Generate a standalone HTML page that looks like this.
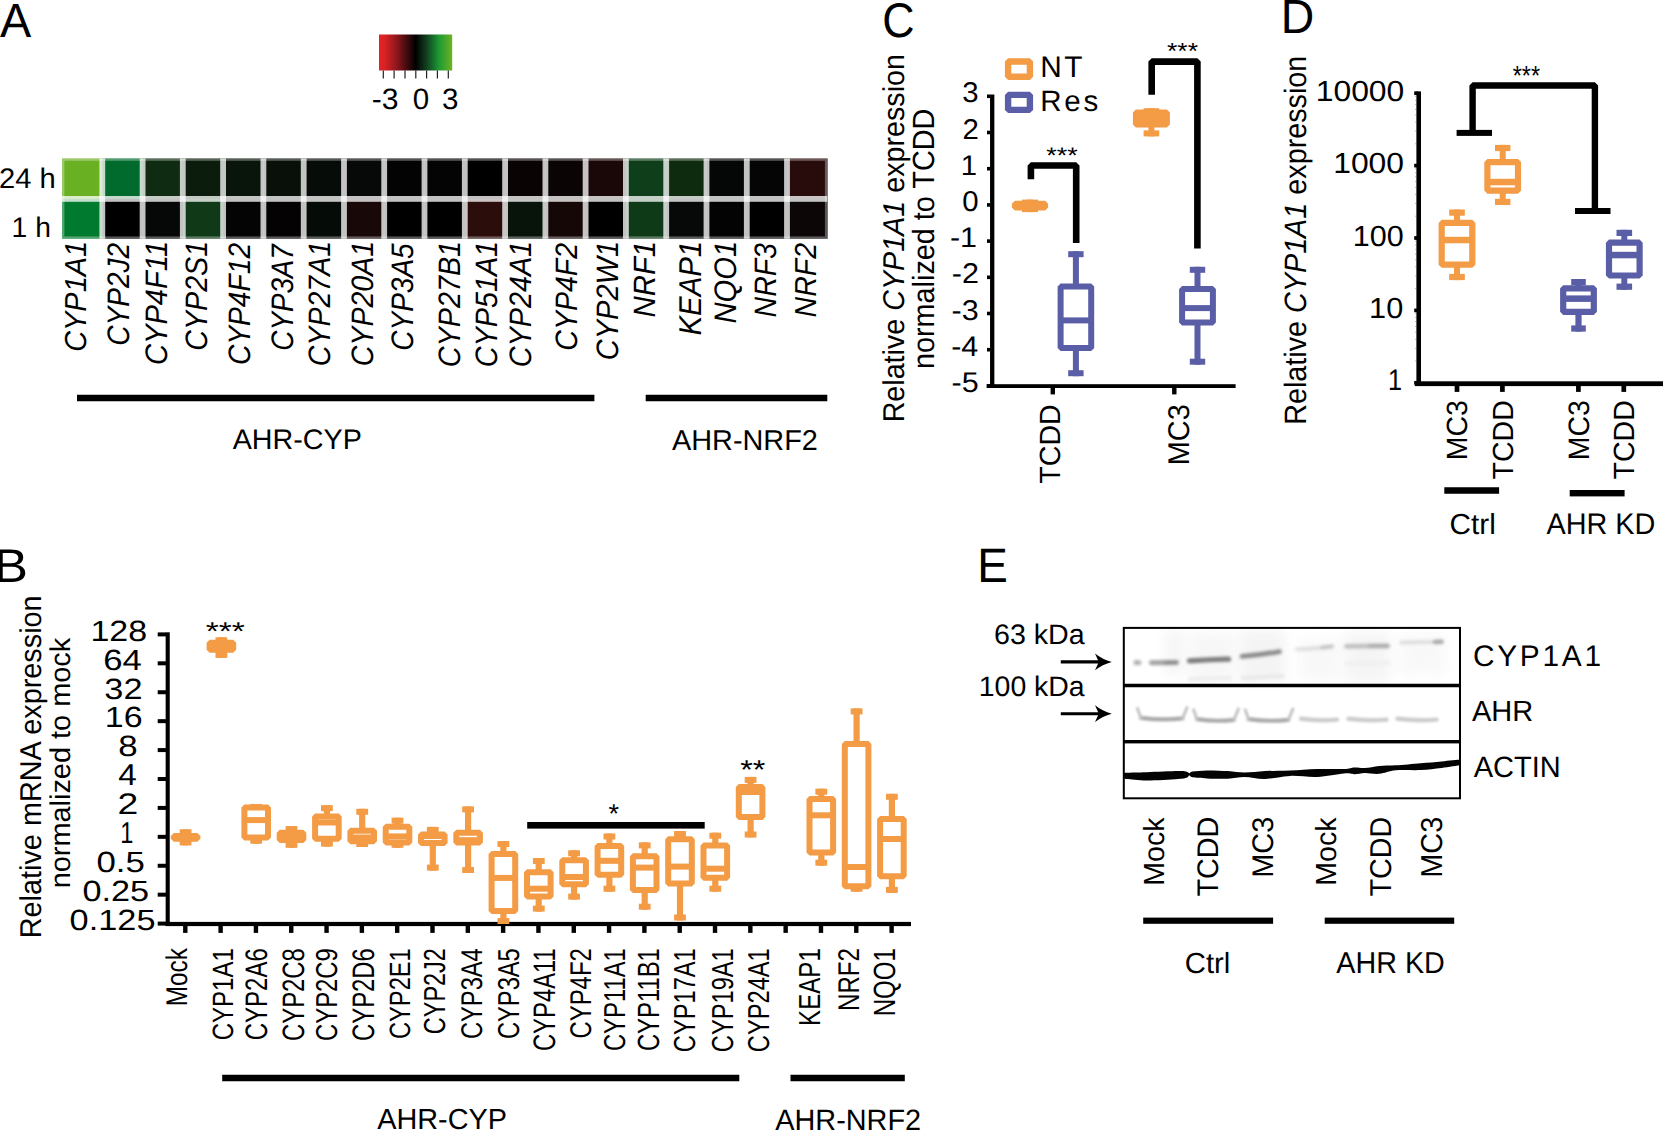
<!DOCTYPE html>
<html lang="en"><head><meta charset="utf-8"><title>Figure</title>
<style>html,body{margin:0;padding:0;background:#fff}svg{display:block}text{font-family:"Liberation Sans",sans-serif;fill:#000;text-rendering:geometricPrecision}</style></head><body>
<svg width="1663" height="1130" viewBox="0 0 1663 1130">
<rect width="1663" height="1130" fill="#fff"/>
<defs>
<linearGradient id="key" x1="0" x2="1" y1="0" y2="0"><stop offset="0" stop-color="#e32322"/><stop offset="0.08" stop-color="#d92224"/><stop offset="0.25" stop-color="#8a161c"/><stop offset="0.5" stop-color="#000"/><stop offset="0.65" stop-color="#124020"/><stop offset="0.82" stop-color="#1c9a33"/><stop offset="1" stop-color="#6fb222"/></linearGradient>
<filter color-interpolation-filters="sRGB" id="b1" x="-20%" y="-200%" width="140%" height="500%"><feGaussianBlur stdDeviation="1.2"/></filter>
<filter color-interpolation-filters="sRGB" id="b2" x="-20%" y="-200%" width="140%" height="500%"><feGaussianBlur stdDeviation="1.5"/></filter>
<filter color-interpolation-filters="sRGB" id="b3" x="-30%" y="-30%" width="160%" height="160%"><feGaussianBlur stdDeviation="6"/></filter>
<filter color-interpolation-filters="sRGB" id="b0" x="-10%" y="-10%" width="120%" height="120%"><feGaussianBlur stdDeviation="0.7"/></filter>
<clipPath id="blot"><rect x="1124" y="628" width="336" height="170"/></clipPath>
</defs>
<text x="-0.12" y="36.60" font-size="48.15" textLength="31.21" lengthAdjust="spacingAndGlyphs">A</text>
<text x="-6.23" y="581.50" font-size="47.27" textLength="34.20" lengthAdjust="spacingAndGlyphs">B</text>
<text x="882.16" y="36.81" font-size="48.62" textLength="32.30" lengthAdjust="spacingAndGlyphs">C</text>
<text x="1280.77" y="33.10" font-size="47.85" textLength="33.52" lengthAdjust="spacingAndGlyphs">D</text>
<text x="977.21" y="581.50" font-size="48.29" textLength="30.61" lengthAdjust="spacingAndGlyphs">E</text>
<g id="panelA">
<rect x="379" y="34.5" width="73.2" height="36" fill="url(#key)"/>
<rect x="382.7" y="70.5" width="1.2" height="8.0" fill="#222"/>
<rect x="393.5" y="70.5" width="1.2" height="8.0" fill="#222"/>
<rect x="404.4" y="70.5" width="1.2" height="8.0" fill="#222"/>
<rect x="415.2" y="70.5" width="1.2" height="8.0" fill="#222"/>
<rect x="426.0" y="70.5" width="1.2" height="8.0" fill="#222"/>
<rect x="436.79999999999995" y="70.5" width="1.2" height="8.0" fill="#222"/>
<rect x="447.7" y="70.5" width="1.2" height="8.0" fill="#222"/>
<text x="371.84" y="108.90" font-size="29.54" textLength="26.79" lengthAdjust="spacingAndGlyphs">-3</text>
<text x="412.72" y="108.90" font-size="29.54">0</text>
<text x="441.89" y="108.90" font-size="29.54">3</text>
<g filter="url(#b0)">
<rect x="62.0" y="158.4" width="40.6" height="40.7" fill="#6ab023"/>
<rect x="62.0" y="198.9" width="40.6" height="39.9" fill="#007a2e"/>
<rect x="102.3" y="158.4" width="40.6" height="40.7" fill="#006b2d"/>
<rect x="102.3" y="198.9" width="40.6" height="39.9" fill="#000000"/>
<rect x="142.6" y="158.4" width="40.6" height="40.7" fill="#0f2b11"/>
<rect x="142.6" y="198.9" width="40.6" height="39.9" fill="#060807"/>
<rect x="182.8" y="158.4" width="40.6" height="40.7" fill="#0c1c0c"/>
<rect x="182.8" y="198.9" width="40.6" height="39.9" fill="#103a17"/>
<rect x="223.1" y="158.4" width="40.6" height="40.7" fill="#09140a"/>
<rect x="223.1" y="198.9" width="40.6" height="39.9" fill="#050404"/>
<rect x="263.4" y="158.4" width="40.6" height="40.7" fill="#081009"/>
<rect x="263.4" y="198.9" width="40.6" height="39.9" fill="#040203"/>
<rect x="303.7" y="158.4" width="40.6" height="40.7" fill="#060c07"/>
<rect x="303.7" y="198.9" width="40.6" height="39.9" fill="#050b07"/>
<rect x="344.0" y="158.4" width="40.6" height="40.7" fill="#070908"/>
<rect x="344.0" y="198.9" width="40.6" height="39.9" fill="#180808"/>
<rect x="384.2" y="158.4" width="40.6" height="40.7" fill="#030303"/>
<rect x="384.2" y="198.9" width="40.6" height="39.9" fill="#000000"/>
<rect x="424.5" y="158.4" width="40.6" height="40.7" fill="#040404"/>
<rect x="424.5" y="198.9" width="40.6" height="39.9" fill="#000000"/>
<rect x="464.8" y="158.4" width="40.6" height="40.7" fill="#000000"/>
<rect x="464.8" y="198.9" width="40.6" height="39.9" fill="#2b0d0b"/>
<rect x="505.1" y="158.4" width="40.6" height="40.7" fill="#0a0303"/>
<rect x="505.1" y="198.9" width="40.6" height="39.9" fill="#08140a"/>
<rect x="545.4" y="158.4" width="40.6" height="40.7" fill="#0a0404"/>
<rect x="545.4" y="198.9" width="40.6" height="39.9" fill="#160707"/>
<rect x="585.6" y="158.4" width="40.6" height="40.7" fill="#1a0808"/>
<rect x="585.6" y="198.9" width="40.6" height="39.9" fill="#000000"/>
<rect x="625.9" y="158.4" width="40.6" height="40.7" fill="#0f3f1a"/>
<rect x="625.9" y="198.9" width="40.6" height="39.9" fill="#0f3a17"/>
<rect x="666.2" y="158.4" width="40.6" height="40.7" fill="#0e2b10"/>
<rect x="666.2" y="198.9" width="40.6" height="39.9" fill="#070908"/>
<rect x="706.5" y="158.4" width="40.6" height="40.7" fill="#040706"/>
<rect x="706.5" y="198.9" width="40.6" height="39.9" fill="#030303"/>
<rect x="746.8" y="158.4" width="40.6" height="40.7" fill="#060505"/>
<rect x="746.8" y="198.9" width="40.6" height="39.9" fill="#000000"/>
<rect x="787.0" y="158.4" width="40.6" height="40.7" fill="#280b0b"/>
<rect x="787.0" y="198.9" width="40.6" height="39.9" fill="#0c0607"/>
<g fill="#fff" fill-opacity="0.76">
<rect x="99.4" y="158.4" width="5.8" height="80.4"/>
<rect x="139.7" y="158.4" width="5.8" height="80.4"/>
<rect x="179.9" y="158.4" width="5.8" height="80.4"/>
<rect x="220.2" y="158.4" width="5.8" height="80.4"/>
<rect x="260.5" y="158.4" width="5.8" height="80.4"/>
<rect x="300.8" y="158.4" width="5.8" height="80.4"/>
<rect x="341.1" y="158.4" width="5.8" height="80.4"/>
<rect x="381.3" y="158.4" width="5.8" height="80.4"/>
<rect x="421.6" y="158.4" width="5.8" height="80.4"/>
<rect x="461.9" y="158.4" width="5.8" height="80.4"/>
<rect x="502.2" y="158.4" width="5.8" height="80.4"/>
<rect x="542.5" y="158.4" width="5.8" height="80.4"/>
<rect x="582.7" y="158.4" width="5.8" height="80.4"/>
<rect x="623.0" y="158.4" width="5.8" height="80.4"/>
<rect x="663.3" y="158.4" width="5.8" height="80.4"/>
<rect x="703.6" y="158.4" width="5.8" height="80.4"/>
<rect x="743.9" y="158.4" width="5.8" height="80.4"/>
<rect x="784.1" y="158.4" width="5.8" height="80.4"/>
<rect x="62" y="196" width="765.3" height="5.8"/>
</g>
<rect x="63.2" y="159.6" width="762.9" height="78" fill="none" stroke="#fff" stroke-width="2.4" opacity="0.32"/>
</g>
<text x="-1.06" y="188.20" font-size="28.28" textLength="56.72" lengthAdjust="spacingAndGlyphs">24 h</text>
<text x="11.58" y="237.00" font-size="28.41" textLength="39.29" lengthAdjust="spacingAndGlyphs">1 h</text>
<text transform="translate(86.10,351.79) rotate(-90)" font-size="30.39" textLength="110.89" lengthAdjust="spacingAndGlyphs" font-style="italic">CYP1A1</text>
<text transform="translate(129.40,345.74) rotate(-90)" font-size="31.11" textLength="102.82" lengthAdjust="spacingAndGlyphs" font-style="italic">CYP2J2</text>
<text transform="translate(166.70,365.10) rotate(-90)" font-size="31.11" textLength="124.25" lengthAdjust="spacingAndGlyphs" font-style="italic">CYP4F11</text>
<text transform="translate(206.80,350.67) rotate(-90)" font-size="30.97" textLength="109.75" lengthAdjust="spacingAndGlyphs" font-style="italic">CYP2S1</text>
<text transform="translate(249.60,365.05) rotate(-90)" font-size="30.97" textLength="122.12" lengthAdjust="spacingAndGlyphs" font-style="italic">CYP4F12</text>
<text transform="translate(292.50,350.63) rotate(-90)" font-size="31.11" textLength="106.44" lengthAdjust="spacingAndGlyphs" font-style="italic">CYP3A7</text>
<text transform="translate(330.20,366.27) rotate(-90)" font-size="30.97" textLength="125.37" lengthAdjust="spacingAndGlyphs" font-style="italic">CYP27A1</text>
<text transform="translate(373.00,366.27) rotate(-90)" font-size="30.97" textLength="125.37" lengthAdjust="spacingAndGlyphs" font-style="italic">CYP20A1</text>
<text transform="translate(413.20,350.64) rotate(-90)" font-size="31.11" textLength="107.28" lengthAdjust="spacingAndGlyphs" font-style="italic">CYP3A5</text>
<text transform="translate(460.40,367.28) rotate(-90)" font-size="30.97" textLength="126.41" lengthAdjust="spacingAndGlyphs" font-style="italic">CYP27B1</text>
<text transform="translate(496.50,367.28) rotate(-90)" font-size="30.97" textLength="126.41" lengthAdjust="spacingAndGlyphs" font-style="italic">CYP51A1</text>
<text transform="translate(530.90,367.28) rotate(-90)" font-size="30.97" textLength="126.41" lengthAdjust="spacingAndGlyphs" font-style="italic">CYP24A1</text>
<text transform="translate(577.10,350.67) rotate(-90)" font-size="30.97" textLength="107.78" lengthAdjust="spacingAndGlyphs" font-style="italic">CYP4F2</text>
<text transform="translate(617.50,360.30) rotate(-90)" font-size="30.97" textLength="119.46" lengthAdjust="spacingAndGlyphs" font-style="italic">CYP2W1</text>
<text transform="translate(654.80,317.48) rotate(-90)" font-size="30.84" textLength="76.64" lengthAdjust="spacingAndGlyphs" font-style="italic">NRF1</text>
<text transform="translate(700.50,335.48) rotate(-90)" font-size="31.56" textLength="94.65" lengthAdjust="spacingAndGlyphs" font-style="italic">KEAP1</text>
<text transform="translate(735.90,323.47) rotate(-90)" font-size="31.11" textLength="82.63" lengthAdjust="spacingAndGlyphs" font-style="italic">NQO1</text>
<text transform="translate(775.50,317.45) rotate(-90)" font-size="30.97" textLength="74.41" lengthAdjust="spacingAndGlyphs" font-style="italic">NRF3</text>
<text transform="translate(816.00,317.46) rotate(-90)" font-size="30.39" textLength="74.55" lengthAdjust="spacingAndGlyphs" font-style="italic">NRF2</text>
<rect x="77" y="394.75" width="517.4" height="6.5" fill="#000"/>
<rect x="645.7" y="394.75" width="181.5999999999999" height="6.5" fill="#000"/>
<text x="232.73" y="449.32" font-size="28.27" textLength="129.09" lengthAdjust="spacingAndGlyphs">AHR-CYP</text>
<text x="672.03" y="449.60" font-size="28.67" textLength="145.84" lengthAdjust="spacingAndGlyphs">AHR-NRF2</text>
</g>
<g id="panelB">
<text transform="translate(41.10,938.28) rotate(-90)" font-size="30.07" textLength="342.92" lengthAdjust="spacingAndGlyphs">Relative mRNA expression</text>
<text transform="translate(69.70,888.35) rotate(-90)" font-size="28.55" textLength="250.56" lengthAdjust="spacingAndGlyphs">normalized to mock</text>
<rect x="165.64999999999998" y="632.3" width="4.1" height="293.6" fill="#000"/>
<rect x="165.6" y="921.9" width="745.4" height="4.2" fill="#000"/>
<rect x="157.7" y="632.4" width="8.300000000000011" height="4.0" fill="#000"/>
<text x="90.45" y="640.69" font-size="29.26" textLength="56.62" lengthAdjust="spacingAndGlyphs">128</text>
<rect x="157.7" y="661.3199999999999" width="8.300000000000011" height="4.0" fill="#000"/>
<text x="103.27" y="669.61" font-size="29.26" textLength="38.57" lengthAdjust="spacingAndGlyphs">64</text>
<rect x="157.7" y="690.24" width="8.300000000000011" height="4.0" fill="#000"/>
<text x="104.31" y="698.53" font-size="29.26" textLength="38.18" lengthAdjust="spacingAndGlyphs">32</text>
<rect x="157.7" y="719.16" width="8.300000000000011" height="4.0" fill="#000"/>
<text x="104.75" y="727.45" font-size="29.26" textLength="37.77" lengthAdjust="spacingAndGlyphs">16</text>
<rect x="157.7" y="748.0799999999999" width="8.300000000000011" height="4.0" fill="#000"/>
<text x="118.22" y="756.37" font-size="29.26" textLength="19.41" lengthAdjust="spacingAndGlyphs">8</text>
<rect x="157.7" y="777.0" width="8.300000000000011" height="4.0" fill="#000"/>
<text x="118.35" y="785.30" font-size="30.11" textLength="18.50" lengthAdjust="spacingAndGlyphs">4</text>
<rect x="157.7" y="805.92" width="8.300000000000011" height="4.0" fill="#000"/>
<text x="117.53" y="814.22" font-size="29.68" textLength="20.78" lengthAdjust="spacingAndGlyphs">2</text>
<rect x="157.7" y="834.8399999999999" width="8.300000000000011" height="4.0" fill="#000"/>
<text x="120.23" y="843.14" font-size="30.11" textLength="13.12" lengthAdjust="spacingAndGlyphs">1</text>
<rect x="157.7" y="863.76" width="8.300000000000011" height="4.0" fill="#000"/>
<text x="96.51" y="872.05" font-size="29.26" textLength="48.39" lengthAdjust="spacingAndGlyphs">0.5</text>
<rect x="157.7" y="892.6800000000001" width="8.300000000000011" height="4.0" fill="#000"/>
<text x="82.43" y="900.97" font-size="29.26" textLength="66.69" lengthAdjust="spacingAndGlyphs">0.25</text>
<rect x="157.7" y="921.6" width="8.300000000000011" height="4.0" fill="#000"/>
<text x="69.63" y="929.89" font-size="29.26" textLength="85.85" lengthAdjust="spacingAndGlyphs">0.125</text>
<rect x="183.10000000000002" y="924" width="4.4" height="8.899999999999977" fill="#000"/>
<rect x="218.41500000000002" y="924" width="4.4" height="8.899999999999977" fill="#000"/>
<rect x="253.73000000000002" y="924" width="4.4" height="8.899999999999977" fill="#000"/>
<rect x="289.045" y="924" width="4.4" height="8.899999999999977" fill="#000"/>
<rect x="324.36" y="924" width="4.4" height="8.899999999999977" fill="#000"/>
<rect x="359.675" y="924" width="4.4" height="8.899999999999977" fill="#000"/>
<rect x="394.99" y="924" width="4.4" height="8.899999999999977" fill="#000"/>
<rect x="430.305" y="924" width="4.4" height="8.899999999999977" fill="#000"/>
<rect x="465.62" y="924" width="4.4" height="8.899999999999977" fill="#000"/>
<rect x="500.935" y="924" width="4.4" height="8.899999999999977" fill="#000"/>
<rect x="536.25" y="924" width="4.4" height="8.899999999999977" fill="#000"/>
<rect x="571.5649999999999" y="924" width="4.4" height="8.899999999999977" fill="#000"/>
<rect x="606.8799999999999" y="924" width="4.4" height="8.899999999999977" fill="#000"/>
<rect x="642.1949999999999" y="924" width="4.4" height="8.899999999999977" fill="#000"/>
<rect x="677.51" y="924" width="4.4" height="8.899999999999977" fill="#000"/>
<rect x="712.8249999999998" y="924" width="4.4" height="8.899999999999977" fill="#000"/>
<rect x="748.1399999999999" y="924" width="4.4" height="8.899999999999977" fill="#000"/>
<rect x="783.4549999999999" y="924" width="4.4" height="8.899999999999977" fill="#000"/>
<rect x="818.77" y="924" width="4.4" height="8.899999999999977" fill="#000"/>
<rect x="854.0849999999998" y="924" width="4.4" height="8.899999999999977" fill="#000"/>
<rect x="889.3999999999999" y="924" width="4.4" height="8.899999999999977" fill="#000"/>
<g stroke="#F39B45" fill="none" stroke-linejoin="bevel">
<rect x="182.5" y="829.3" width="6.2" height="16.1" fill="#F39B45" stroke="none"/>
<rect x="179.7" y="829.3" width="11.8" height="6.0" fill="#F39B45" stroke="none"/>
<rect x="179.7" y="839.4" width="11.8" height="6.0" fill="#F39B45" stroke="none"/>
<rect x="173.8" y="835.9" width="23.6" height="2.9" fill="#F39B45" stroke-width="6.0"/>
</g>
<g stroke="#F39B45" fill="none" stroke-linejoin="bevel">
<rect x="218.3" y="637.3" width="6.2" height="20.6" fill="#F39B45" stroke="none"/>
<rect x="215.5" y="637.3" width="11.8" height="6.0" fill="#F39B45" stroke="none"/>
<rect x="215.5" y="651.9" width="11.8" height="6.0" fill="#F39B45" stroke="none"/>
<rect x="209.6" y="642.8" width="23.6" height="7.0" fill="#F39B45" stroke-width="6.0"/>
</g>
<g stroke="#F39B45" fill="none" stroke-linejoin="bevel">
<rect x="253.1" y="804.0" width="6.2" height="39.7" fill="#F39B45" stroke="none"/>
<rect x="250.3" y="804.0" width="11.8" height="6.0" fill="#F39B45" stroke="none"/>
<rect x="250.3" y="837.7" width="11.8" height="6.0" fill="#F39B45" stroke="none"/>
<rect x="244.4" y="807.5" width="23.6" height="30.1" fill="#fff" stroke-width="6.0"/>
<rect x="244.4" y="817.1" width="23.6" height="6.0" fill="#F39B45" stroke="none"/>
</g>
<g stroke="#F39B45" fill="none" stroke-linejoin="bevel">
<rect x="288.4" y="826.1" width="6.2" height="21.7" fill="#F39B45" stroke="none"/>
<rect x="285.6" y="826.1" width="11.8" height="6.0" fill="#F39B45" stroke="none"/>
<rect x="285.6" y="841.8" width="11.8" height="6.0" fill="#F39B45" stroke="none"/>
<rect x="279.7" y="832.8" width="23.6" height="7.2" fill="#F39B45" stroke-width="6.0"/>
</g>
<g stroke="#F39B45" fill="none" stroke-linejoin="bevel">
<rect x="323.8" y="805.2" width="6.2" height="41.4" fill="#F39B45" stroke="none"/>
<rect x="321.0" y="805.2" width="11.8" height="6.0" fill="#F39B45" stroke="none"/>
<rect x="321.0" y="840.6" width="11.8" height="6.0" fill="#F39B45" stroke="none"/>
<rect x="315.1" y="816.4" width="23.6" height="22.4" fill="#fff" stroke-width="6.0"/>
<rect x="315.1" y="819.5" width="23.6" height="6.0" fill="#F39B45" stroke="none"/>
</g>
<g stroke="#F39B45" fill="none" stroke-linejoin="bevel">
<rect x="359.1" y="808.8" width="6.2" height="38.2" fill="#F39B45" stroke="none"/>
<rect x="356.3" y="808.8" width="11.8" height="6.0" fill="#F39B45" stroke="none"/>
<rect x="356.3" y="841.0" width="11.8" height="6.0" fill="#F39B45" stroke="none"/>
<rect x="350.4" y="830.8" width="23.6" height="10.4" fill="#fff" stroke-width="6.0"/>
<rect x="350.4" y="834.5" width="23.6" height="6.0" fill="#F39B45" stroke="none"/>
</g>
<g stroke="#F39B45" fill="none" stroke-linejoin="bevel">
<rect x="394.4" y="817.7" width="6.2" height="30.1" fill="#F39B45" stroke="none"/>
<rect x="391.6" y="817.7" width="11.8" height="6.0" fill="#F39B45" stroke="none"/>
<rect x="391.6" y="841.8" width="11.8" height="6.0" fill="#F39B45" stroke="none"/>
<rect x="385.7" y="826.7" width="23.6" height="15.7" fill="#fff" stroke-width="6.0"/>
<rect x="385.7" y="833.4" width="23.6" height="6.0" fill="#F39B45" stroke="none"/>
</g>
<g stroke="#F39B45" fill="none" stroke-linejoin="bevel">
<rect x="429.7" y="826.9" width="6.2" height="43.7" fill="#F39B45" stroke="none"/>
<rect x="426.9" y="826.9" width="11.8" height="6.0" fill="#F39B45" stroke="none"/>
<rect x="426.9" y="864.6" width="11.8" height="6.0" fill="#F39B45" stroke="none"/>
<rect x="421.0" y="834.4" width="23.6" height="8.7" fill="#fff" stroke-width="6.0"/>
<rect x="421.0" y="833.0" width="23.6" height="6.0" fill="#F39B45" stroke="none"/>
</g>
<g stroke="#F39B45" fill="none" stroke-linejoin="bevel">
<rect x="465.0" y="806.4" width="6.2" height="66.6" fill="#F39B45" stroke="none"/>
<rect x="462.2" y="806.4" width="11.8" height="6.0" fill="#F39B45" stroke="none"/>
<rect x="462.2" y="867.0" width="11.8" height="6.0" fill="#F39B45" stroke="none"/>
<rect x="456.3" y="832.8" width="23.6" height="9.6" fill="#fff" stroke-width="6.0"/>
<rect x="456.3" y="837.2" width="23.6" height="6.0" fill="#F39B45" stroke="none"/>
</g>
<g stroke="#F39B45" fill="none" stroke-linejoin="bevel">
<rect x="500.3" y="841.1" width="6.2" height="82.9" fill="#F39B45" stroke="none"/>
<rect x="497.5" y="841.1" width="11.8" height="6.0" fill="#F39B45" stroke="none"/>
<rect x="497.5" y="918.0" width="11.8" height="6.0" fill="#F39B45" stroke="none"/>
<rect x="491.6" y="853.9" width="23.6" height="57.0" fill="#fff" stroke-width="6.0"/>
<rect x="491.6" y="874.9" width="23.6" height="6.0" fill="#F39B45" stroke="none"/>
</g>
<g stroke="#F39B45" fill="none" stroke-linejoin="bevel">
<rect x="535.6" y="858.0" width="6.2" height="53.6" fill="#F39B45" stroke="none"/>
<rect x="532.9" y="858.0" width="11.8" height="6.0" fill="#F39B45" stroke="none"/>
<rect x="532.9" y="905.6" width="11.8" height="6.0" fill="#F39B45" stroke="none"/>
<rect x="527.0" y="872.3" width="23.6" height="24.3" fill="#fff" stroke-width="6.0"/>
<rect x="527.0" y="885.7" width="23.6" height="6.0" fill="#F39B45" stroke="none"/>
</g>
<g stroke="#F39B45" fill="none" stroke-linejoin="bevel">
<rect x="571.0" y="850.3" width="6.2" height="49.3" fill="#F39B45" stroke="none"/>
<rect x="568.2" y="850.3" width="11.8" height="6.0" fill="#F39B45" stroke="none"/>
<rect x="568.2" y="893.6" width="11.8" height="6.0" fill="#F39B45" stroke="none"/>
<rect x="562.3" y="860.3" width="23.6" height="24.0" fill="#fff" stroke-width="6.0"/>
<rect x="562.3" y="874.0" width="23.6" height="6.0" fill="#F39B45" stroke="none"/>
</g>
<g stroke="#F39B45" fill="none" stroke-linejoin="bevel">
<rect x="606.3" y="833.5" width="6.2" height="58.2" fill="#F39B45" stroke="none"/>
<rect x="603.5" y="833.5" width="11.8" height="6.0" fill="#F39B45" stroke="none"/>
<rect x="603.5" y="885.7" width="11.8" height="6.0" fill="#F39B45" stroke="none"/>
<rect x="597.6" y="846.1" width="23.6" height="28.6" fill="#fff" stroke-width="6.0"/>
<rect x="597.6" y="857.8" width="23.6" height="6.0" fill="#F39B45" stroke="none"/>
</g>
<g stroke="#F39B45" fill="none" stroke-linejoin="bevel">
<rect x="641.6" y="842.4" width="6.2" height="67.3" fill="#F39B45" stroke="none"/>
<rect x="638.8" y="842.4" width="11.8" height="6.0" fill="#F39B45" stroke="none"/>
<rect x="638.8" y="903.7" width="11.8" height="6.0" fill="#F39B45" stroke="none"/>
<rect x="632.9" y="856.2" width="23.6" height="33.7" fill="#fff" stroke-width="6.0"/>
<rect x="632.9" y="864.6" width="23.6" height="6.0" fill="#F39B45" stroke="none"/>
</g>
<g stroke="#F39B45" fill="none" stroke-linejoin="bevel">
<rect x="676.9" y="831.0" width="6.2" height="89.5" fill="#F39B45" stroke="none"/>
<rect x="674.1" y="831.0" width="11.8" height="6.0" fill="#F39B45" stroke="none"/>
<rect x="674.1" y="914.5" width="11.8" height="6.0" fill="#F39B45" stroke="none"/>
<rect x="668.2" y="839.3" width="23.6" height="44.1" fill="#fff" stroke-width="6.0"/>
<rect x="668.2" y="863.6" width="23.6" height="6.0" fill="#F39B45" stroke="none"/>
</g>
<g stroke="#F39B45" fill="none" stroke-linejoin="bevel">
<rect x="712.2" y="832.7" width="6.2" height="59.0" fill="#F39B45" stroke="none"/>
<rect x="709.4" y="832.7" width="11.8" height="6.0" fill="#F39B45" stroke="none"/>
<rect x="709.4" y="885.7" width="11.8" height="6.0" fill="#F39B45" stroke="none"/>
<rect x="703.5" y="845.4" width="23.6" height="32.4" fill="#fff" stroke-width="6.0"/>
<rect x="703.5" y="865.7" width="23.6" height="6.0" fill="#F39B45" stroke="none"/>
</g>
<g stroke="#F39B45" fill="none" stroke-linejoin="bevel">
<rect x="747.5" y="776.9" width="6.2" height="60.6" fill="#F39B45" stroke="none"/>
<rect x="744.7" y="776.9" width="11.8" height="6.0" fill="#F39B45" stroke="none"/>
<rect x="744.7" y="831.5" width="11.8" height="6.0" fill="#F39B45" stroke="none"/>
<rect x="738.8" y="786.9" width="23.6" height="30.1" fill="#fff" stroke-width="6.0"/>
<rect x="738.8" y="789.0" width="23.6" height="6.0" fill="#F39B45" stroke="none"/>
</g>
<g stroke="#F39B45" fill="none" stroke-linejoin="bevel">
<rect x="818.2" y="788.7" width="6.2" height="77.0" fill="#F39B45" stroke="none"/>
<rect x="815.4" y="788.7" width="11.8" height="6.0" fill="#F39B45" stroke="none"/>
<rect x="815.4" y="859.7" width="11.8" height="6.0" fill="#F39B45" stroke="none"/>
<rect x="809.5" y="798.9" width="23.6" height="53.7" fill="#fff" stroke-width="6.0"/>
<rect x="809.5" y="812.3" width="23.6" height="6.0" fill="#F39B45" stroke="none"/>
</g>
<g stroke="#F39B45" fill="none" stroke-linejoin="bevel">
<rect x="853.5" y="708.4" width="6.2" height="183.3" fill="#F39B45" stroke="none"/>
<rect x="850.7" y="708.4" width="11.8" height="6.0" fill="#F39B45" stroke="none"/>
<rect x="850.7" y="885.7" width="11.8" height="6.0" fill="#F39B45" stroke="none"/>
<rect x="844.8" y="743.9" width="23.6" height="142.4" fill="#fff" stroke-width="6.0"/>
<rect x="844.8" y="864.0" width="23.6" height="6.0" fill="#F39B45" stroke="none"/>
</g>
<g stroke="#F39B45" fill="none" stroke-linejoin="bevel">
<rect x="888.8" y="793.8" width="6.2" height="99.1" fill="#F39B45" stroke="none"/>
<rect x="886.0" y="793.8" width="11.8" height="6.0" fill="#F39B45" stroke="none"/>
<rect x="886.0" y="886.9" width="11.8" height="6.0" fill="#F39B45" stroke="none"/>
<rect x="880.1" y="818.9" width="23.6" height="57.3" fill="#fff" stroke-width="6.0"/>
<rect x="880.1" y="836.0" width="23.6" height="6.0" fill="#F39B45" stroke="none"/>
</g>
<rect x="527.2" y="822.0" width="177.5" height="6.6" fill="#000"/>
<text x="608.53" y="822.76" font-size="27.43" textLength="10.52" lengthAdjust="spacingAndGlyphs">*</text>
<text x="740.23" y="779.46" font-size="27.43" textLength="25.18" lengthAdjust="spacingAndGlyphs">**</text>
<text x="205.81" y="640.18" font-size="25.71" textLength="39.07" lengthAdjust="spacingAndGlyphs">***</text>
<text transform="translate(187.30,1006.20) rotate(-90)" font-size="29.93" textLength="58.00" lengthAdjust="spacingAndGlyphs">Mock</text>
<text transform="translate(233.00,1040.20) rotate(-90)" font-size="29.39" textLength="92.00" lengthAdjust="spacingAndGlyphs">CYP1A1</text>
<text transform="translate(266.70,1040.20) rotate(-90)" font-size="31.11" textLength="92.00" lengthAdjust="spacingAndGlyphs">CYP2A6</text>
<text transform="translate(303.90,1040.99) rotate(-90)" font-size="30.97" textLength="92.79" lengthAdjust="spacingAndGlyphs">CYP2C8</text>
<text transform="translate(337.10,1040.99) rotate(-90)" font-size="30.25" textLength="92.79" lengthAdjust="spacingAndGlyphs">CYP2C9</text>
<text transform="translate(373.70,1040.99) rotate(-90)" font-size="31.11" textLength="92.79" lengthAdjust="spacingAndGlyphs">CYP2D6</text>
<text transform="translate(409.80,1039.08) rotate(-90)" font-size="29.39" textLength="90.88" lengthAdjust="spacingAndGlyphs">CYP2E1</text>
<text transform="translate(445.40,1034.17) rotate(-90)" font-size="30.39" textLength="85.97" lengthAdjust="spacingAndGlyphs">CYP2J2</text>
<text transform="translate(481.90,1039.08) rotate(-90)" font-size="29.96" textLength="90.88" lengthAdjust="spacingAndGlyphs">CYP3A4</text>
<text transform="translate(518.70,1039.08) rotate(-90)" font-size="30.25" textLength="90.88" lengthAdjust="spacingAndGlyphs">CYP3A5</text>
<text transform="translate(555.30,1051.09) rotate(-90)" font-size="31.11" textLength="102.89" lengthAdjust="spacingAndGlyphs">CYP4A11</text>
<text transform="translate(591.30,1038.60) rotate(-90)" font-size="29.96" textLength="90.40" lengthAdjust="spacingAndGlyphs">CYP4F2</text>
<text transform="translate(624.50,1051.09) rotate(-90)" font-size="30.25" textLength="102.89" lengthAdjust="spacingAndGlyphs">CYP11A1</text>
<text transform="translate(659.20,1051.09) rotate(-90)" font-size="30.68" textLength="102.89" lengthAdjust="spacingAndGlyphs">CYP11B1</text>
<text transform="translate(694.80,1052.18) rotate(-90)" font-size="30.39" textLength="103.98" lengthAdjust="spacingAndGlyphs">CYP17A1</text>
<text transform="translate(732.80,1052.18) rotate(-90)" font-size="30.39" textLength="103.98" lengthAdjust="spacingAndGlyphs">CYP19A1</text>
<text transform="translate(768.80,1052.18) rotate(-90)" font-size="30.25" textLength="103.98" lengthAdjust="spacingAndGlyphs">CYP24A1</text>
<text transform="translate(819.80,1025.89) rotate(-90)" font-size="30.40" textLength="77.69" lengthAdjust="spacingAndGlyphs">KEAP1</text>
<text transform="translate(858.80,1010.98) rotate(-90)" font-size="29.96" textLength="62.78" lengthAdjust="spacingAndGlyphs">NRF2</text>
<text transform="translate(894.90,1016.28) rotate(-90)" font-size="30.68" textLength="68.08" lengthAdjust="spacingAndGlyphs">NQO1</text>
<rect x="222.2" y="1074.75" width="517.0999999999999" height="6.5" fill="#000"/>
<rect x="790.5" y="1074.75" width="114.29999999999995" height="6.5" fill="#000"/>
<text x="377.23" y="1129.21" font-size="28.98" textLength="129.80" lengthAdjust="spacingAndGlyphs">AHR-CYP</text>
<text x="775.23" y="1129.50" font-size="29.39" textLength="145.94" lengthAdjust="spacingAndGlyphs">AHR-NRF2</text>
</g>
<g id="panelC">
<text transform="translate(904.20,422.37) rotate(-90)" font-size="30.07" textLength="368.30" lengthAdjust="spacingAndGlyphs">Relative <tspan font-style="italic">CYP1A1</tspan> expression</text>
<text transform="translate(933.70,369.04) rotate(-90)" font-size="30.62" textLength="260.42" lengthAdjust="spacingAndGlyphs">normalized to TCDD</text>
<rect x="990.0500000000001" y="94.5" width="4.3" height="293.5" fill="#000"/>
<rect x="986.6" y="384.20000000000005" width="248.9999999999999" height="3.8" fill="#000"/>
<rect x="987.0" y="94.5" width="3.0" height="3.6" fill="#000"/>
<text x="962.33" y="102.31" font-size="28.55" textLength="16.36" lengthAdjust="spacingAndGlyphs">3</text>
<rect x="987.0" y="130.7" width="3.0" height="3.6" fill="#000"/>
<text x="962.56" y="138.50" font-size="28.53" textLength="16.34" lengthAdjust="spacingAndGlyphs">2</text>
<rect x="987.0" y="166.89999999999998" width="3.0" height="3.6" fill="#000"/>
<text x="960.70" y="174.70" font-size="28.51" textLength="16.33" lengthAdjust="spacingAndGlyphs">1</text>
<rect x="987.0" y="203.1" width="3.0" height="3.6" fill="#000"/>
<text x="962.18" y="210.91" font-size="28.55" textLength="16.36" lengthAdjust="spacingAndGlyphs">0</text>
<rect x="987.0" y="239.3" width="3.0" height="3.6" fill="#000"/>
<text x="949.98" y="247.10" font-size="28.51" textLength="27.12" lengthAdjust="spacingAndGlyphs">-1</text>
<rect x="987.0" y="275.5" width="3.0" height="3.6" fill="#000"/>
<text x="951.83" y="283.30" font-size="28.53" textLength="27.14" lengthAdjust="spacingAndGlyphs">-2</text>
<rect x="987.0" y="311.7" width="3.0" height="3.6" fill="#000"/>
<text x="951.59" y="319.51" font-size="28.55" textLength="27.16" lengthAdjust="spacingAndGlyphs">-3</text>
<rect x="987.0" y="347.90000000000003" width="3.0" height="3.6" fill="#000"/>
<text x="951.17" y="355.70" font-size="28.51" textLength="27.12" lengthAdjust="spacingAndGlyphs">-4</text>
<rect x="987.0" y="384.1" width="3.0" height="3.6" fill="#000"/>
<text x="951.53" y="391.91" font-size="28.53" textLength="27.14" lengthAdjust="spacingAndGlyphs">-5</text>
<rect x="1050.6" y="385" width="4.4" height="9.399999999999977" fill="#000"/>
<rect x="1172.1" y="385" width="4.4" height="9.399999999999977" fill="#000"/>
<text transform="translate(1060.00,483.64) rotate(-90)" font-size="29.25" textLength="79.40" lengthAdjust="spacingAndGlyphs">TCDD</text>
<text transform="translate(1189.20,465.18) rotate(-90)" font-size="29.96" textLength="60.84" lengthAdjust="spacingAndGlyphs">MC3</text>
<rect x="1008.1" y="61.5" width="21.8" height="15.2" fill="#fff" stroke="#F39B45" stroke-width="6.4" stroke-linejoin="bevel"/>
<rect x="1008.1" y="94.9" width="21.8" height="15.0" fill="#fff" stroke="#5A5EA7" stroke-width="6.4" stroke-linejoin="bevel"/>
<text x="1040.24" y="77.00" font-size="29.82" letter-spacing="2.40">NT</text>
<text x="1040.26" y="110.50" font-size="29.53" letter-spacing="2.79">Res</text>
<g stroke="#F39B45" fill="none" stroke-linejoin="bevel">
<rect x="1027.0" y="199.6" width="6" height="12.5" fill="#F39B45" stroke="none"/>
<rect x="1022.0" y="199.6" width="16" height="6" fill="#F39B45" stroke="none"/>
<rect x="1022.0" y="206.1" width="16" height="6" fill="#F39B45" stroke="none"/>
<rect x="1014.9" y="203.8" width="30.2" height="3.7" fill="#F39B45" stroke-width="6.0"/>
</g>
<g stroke="#F39B45" fill="none" stroke-linejoin="bevel">
<rect x="1148.4" y="108.2" width="6" height="28.2" fill="#F39B45" stroke="none"/>
<rect x="1143.6" y="108.2" width="15.6" height="6" fill="#F39B45" stroke="none"/>
<rect x="1143.6" y="130.4" width="15.6" height="6" fill="#F39B45" stroke="none"/>
<rect x="1135.9" y="112.4" width="31.0" height="12.1" fill="#fff" stroke-width="6"/>
<rect x="1135.9" y="115.0" width="31.0" height="7" fill="#F39B45" stroke="none"/>
</g>
<g stroke="#5A5EA7" fill="none" stroke-linejoin="bevel">
<rect x="1072.9" y="251.2" width="6" height="125.0" fill="#5A5EA7" stroke="none"/>
<rect x="1068.2" y="251.2" width="15.4" height="6" fill="#5A5EA7" stroke="none"/>
<rect x="1068.2" y="370.2" width="15.4" height="6" fill="#5A5EA7" stroke="none"/>
<rect x="1060.6" y="286.4" width="30.6" height="61.6" fill="#fff" stroke-width="6"/>
<rect x="1060.6" y="317.4" width="30.6" height="6" fill="#5A5EA7" stroke="none"/>
</g>
<g stroke="#5A5EA7" fill="none" stroke-linejoin="bevel">
<rect x="1194.5" y="266.8" width="6" height="97.9" fill="#5A5EA7" stroke="none"/>
<rect x="1189.8" y="266.8" width="15.4" height="6" fill="#5A5EA7" stroke="none"/>
<rect x="1189.8" y="358.7" width="15.4" height="6" fill="#5A5EA7" stroke="none"/>
<rect x="1182.1" y="289.0" width="30.8" height="33.5" fill="#fff" stroke-width="6"/>
<rect x="1182.1" y="305.1" width="30.8" height="6" fill="#5A5EA7" stroke="none"/>
</g>
<path d="M1030.9 179.2 V165.5 H1076.2 V242.9" fill="none" stroke="#000" stroke-width="6.6" stroke-linejoin="bevel"/>
<path d="M1151.7 94.8 V61.6 H1197.4 V248.5" fill="none" stroke="#000" stroke-width="6.6" stroke-linejoin="bevel"/>
<text x="1046.33" y="162.72" font-size="22.57" textLength="31.44" lengthAdjust="spacingAndGlyphs">***</text>
<text x="1167.03" y="58.91" font-size="23.43" textLength="31.03" lengthAdjust="spacingAndGlyphs">***</text>
</g>
<g id="panelD">
<text transform="translate(1306.30,424.87) rotate(-90)" font-size="30.90" textLength="369.21" lengthAdjust="spacingAndGlyphs">Relative <tspan font-style="italic">CYP1A1</tspan> expression</text>
<rect x="1416.4" y="91.4" width="4.6" height="294.5" fill="#000"/>
<rect x="1414.8" y="381.3" width="248.20000000000005" height="4.8" fill="#000"/>
<rect x="1415.5" y="360.5554283139278" width="1.5" height="0.9" fill="#666"/>
<rect x="1415.5" y="347.8064211582965" width="1.5" height="0.9" fill="#666"/>
<rect x="1415.5" y="338.76085662785556" width="1.5" height="0.9" fill="#666"/>
<rect x="1415.5" y="331.7445716860723" width="1.5" height="0.9" fill="#666"/>
<rect x="1415.5" y="326.01184947222424" width="1.5" height="0.9" fill="#666"/>
<rect x="1415.5" y="321.1649019029678" width="1.5" height="0.9" fill="#666"/>
<rect x="1415.5" y="316.9662849417833" width="1.5" height="0.9" fill="#666"/>
<rect x="1415.5" y="313.26284231659287" width="1.5" height="0.9" fill="#666"/>
<rect x="1415.5" y="288.15542831392776" width="1.5" height="0.9" fill="#666"/>
<rect x="1415.5" y="275.40642115829644" width="1.5" height="0.9" fill="#666"/>
<rect x="1415.5" y="266.3608566278555" width="1.5" height="0.9" fill="#666"/>
<rect x="1415.5" y="259.34457168607224" width="1.5" height="0.9" fill="#666"/>
<rect x="1415.5" y="253.6118494722242" width="1.5" height="0.9" fill="#666"/>
<rect x="1415.5" y="248.7649019029678" width="1.5" height="0.9" fill="#666"/>
<rect x="1415.5" y="244.5662849417833" width="1.5" height="0.9" fill="#666"/>
<rect x="1415.5" y="240.8628423165929" width="1.5" height="0.9" fill="#666"/>
<rect x="1415.5" y="215.75542831392778" width="1.5" height="0.9" fill="#666"/>
<rect x="1415.5" y="203.00642115829643" width="1.5" height="0.9" fill="#666"/>
<rect x="1415.5" y="193.96085662785552" width="1.5" height="0.9" fill="#666"/>
<rect x="1415.5" y="186.94457168607224" width="1.5" height="0.9" fill="#666"/>
<rect x="1415.5" y="181.21184947222423" width="1.5" height="0.9" fill="#666"/>
<rect x="1415.5" y="176.3649019029678" width="1.5" height="0.9" fill="#666"/>
<rect x="1415.5" y="172.1662849417833" width="1.5" height="0.9" fill="#666"/>
<rect x="1415.5" y="168.46284231659288" width="1.5" height="0.9" fill="#666"/>
<rect x="1415.5" y="143.35542831392777" width="1.5" height="0.9" fill="#666"/>
<rect x="1415.5" y="130.60642115829643" width="1.5" height="0.9" fill="#666"/>
<rect x="1415.5" y="121.5608566278555" width="1.5" height="0.9" fill="#666"/>
<rect x="1415.5" y="114.54457168607222" width="1.5" height="0.9" fill="#666"/>
<rect x="1415.5" y="108.81184947222418" width="1.5" height="0.9" fill="#666"/>
<rect x="1415.5" y="103.96490190296781" width="1.5" height="0.9" fill="#666"/>
<rect x="1415.5" y="99.76628494178327" width="1.5" height="0.9" fill="#666"/>
<rect x="1415.5" y="96.06284231659286" width="1.5" height="0.9" fill="#666"/>
<rect x="1414.2" y="91.35000000000001" width="3.7999999999999545" height="3.7" fill="#000"/>
<text x="1315.71" y="100.81" font-size="29.12" textLength="88.61" lengthAdjust="spacingAndGlyphs">10000</text>
<rect x="1414.2" y="163.75000000000003" width="3.7999999999999545" height="3.7" fill="#000"/>
<text x="1333.21" y="173.21" font-size="29.12" textLength="70.85" lengthAdjust="spacingAndGlyphs">1000</text>
<rect x="1414.2" y="236.15" width="3.7999999999999545" height="3.7" fill="#000"/>
<text x="1352.81" y="245.61" font-size="29.12" textLength="50.97" lengthAdjust="spacingAndGlyphs">100</text>
<rect x="1414.2" y="308.55" width="3.7999999999999545" height="3.7" fill="#000"/>
<text x="1369.10" y="318.01" font-size="29.12" textLength="34.12" lengthAdjust="spacingAndGlyphs">10</text>
<rect x="1414.2" y="380.95" width="3.7999999999999545" height="3.7" fill="#000"/>
<text x="1388.11" y="390.40" font-size="29.96" textLength="14.02" lengthAdjust="spacingAndGlyphs">1</text>
<rect x="1454.65" y="383" width="4.7" height="8.899999999999977" fill="#000"/>
<rect x="1500.0500000000002" y="383" width="4.7" height="8.899999999999977" fill="#000"/>
<rect x="1576.0500000000002" y="383" width="4.7" height="8.899999999999977" fill="#000"/>
<rect x="1621.45" y="383" width="4.7" height="8.899999999999977" fill="#000"/>
<text transform="translate(1467.00,460.14) rotate(-90)" font-size="29.25" textLength="59.88" lengthAdjust="spacingAndGlyphs">MC3</text>
<text transform="translate(1513.10,479.54) rotate(-90)" font-size="29.10" textLength="79.40" lengthAdjust="spacingAndGlyphs">TCDD</text>
<text transform="translate(1588.80,460.14) rotate(-90)" font-size="29.53" textLength="59.88" lengthAdjust="spacingAndGlyphs">MC3</text>
<text transform="translate(1633.80,479.54) rotate(-90)" font-size="29.25" textLength="79.40" lengthAdjust="spacingAndGlyphs">TCDD</text>
<rect x="1444.3" y="487.25" width="54.799999999999955" height="6.5" fill="#000"/>
<rect x="1569.7" y="490.0" width="54.899999999999864" height="6.4" fill="#000"/>
<text x="1449.61" y="533.91" font-size="28.98" textLength="46.20" lengthAdjust="spacingAndGlyphs">Ctrl</text>
<text x="1546.43" y="534.00" font-size="29.82" textLength="108.97" lengthAdjust="spacingAndGlyphs">AHR KD</text>
<g stroke="#F39B45" fill="none" stroke-linejoin="bevel">
<rect x="1454.0" y="209.5" width="6" height="70.6" fill="#F39B45" stroke="none"/>
<rect x="1449.2" y="209.5" width="15.6" height="6.2" fill="#F39B45" stroke="none"/>
<rect x="1449.2" y="273.9" width="15.6" height="6.2" fill="#F39B45" stroke="none"/>
<rect x="1441.7" y="222.9" width="30.6" height="41.8" fill="#fff" stroke-width="6.2"/>
<rect x="1441.7" y="236.8" width="30.6" height="6.5" fill="#F39B45" stroke="none"/>
</g>
<g stroke="#F39B45" fill="none" stroke-linejoin="bevel">
<rect x="1499.7" y="144.9" width="6" height="60.1" fill="#F39B45" stroke="none"/>
<rect x="1495.0" y="144.9" width="15.4" height="6.2" fill="#F39B45" stroke="none"/>
<rect x="1495.0" y="198.8" width="15.4" height="6.2" fill="#F39B45" stroke="none"/>
<rect x="1487.4" y="162.1" width="30.6" height="28.5" fill="#fff" stroke-width="6.2"/>
<rect x="1487.4" y="178.8" width="30.6" height="6.5" fill="#F39B45" stroke="none"/>
</g>
<g stroke="#5A5EA7" fill="none" stroke-linejoin="bevel">
<rect x="1575.4" y="279.0" width="6.2" height="52.6" fill="#5A5EA7" stroke="none"/>
<rect x="1571.2" y="279.0" width="14.6" height="6.2" fill="#5A5EA7" stroke="none"/>
<rect x="1571.2" y="325.4" width="14.6" height="6.2" fill="#5A5EA7" stroke="none"/>
<rect x="1563.2" y="288.3" width="30.6" height="23.5" fill="#fff" stroke-width="6.2"/>
<rect x="1563.2" y="295.4" width="30.6" height="6.5" fill="#5A5EA7" stroke="none"/>
</g>
<g stroke="#5A5EA7" fill="none" stroke-linejoin="bevel">
<rect x="1621.3" y="229.8" width="6" height="60.0" fill="#5A5EA7" stroke="none"/>
<rect x="1616.5" y="229.8" width="15.6" height="6.2" fill="#5A5EA7" stroke="none"/>
<rect x="1616.5" y="283.6" width="15.6" height="6.2" fill="#5A5EA7" stroke="none"/>
<rect x="1609.0" y="242.7" width="30.6" height="32.8" fill="#fff" stroke-width="6.2"/>
<rect x="1609.0" y="251.8" width="30.6" height="6.5" fill="#5A5EA7" stroke="none"/>
</g>
<path d="M1472.6 132.9 V85.5 H1594.9 V211" fill="none" stroke="#000" stroke-width="6.4" stroke-linejoin="bevel"/>
<rect x="1456.6" y="129.9" width="35.40000000000009" height="6.0" fill="#000"/>
<rect x="1575" y="208.0" width="35.5" height="6.0" fill="#000"/>
<text x="1512.69" y="85.15" font-size="27.71" textLength="27.32" lengthAdjust="spacingAndGlyphs">***</text>
</g>
<g id="panelE">
<text x="993.97" y="644.02" font-size="28.16" textLength="90.69" lengthAdjust="spacingAndGlyphs">63 kDa</text>
<text x="978.77" y="695.82" font-size="28.16" textLength="105.93" lengthAdjust="spacingAndGlyphs">100 kDa</text>
<path d="M1060.8 661.9 H1100" stroke="#000" stroke-width="3.1" fill="none"/>
<path d="M1111.8 661.9 Q1102.5 659.5 1095 653.5 L1098.8 661.9 L1095 670.3 Q1102.5 664.3 1111.8 661.9 Z" fill="#000"/>
<path d="M1060.8 713.7 H1100" stroke="#000" stroke-width="3.1" fill="none"/>
<path d="M1111.8 713.7 Q1102.5 711.3 1095 705.3 L1098.8 713.7 L1095 722.1 Q1102.5 716.1 1111.8 713.7 Z" fill="#000"/>
<g clip-path="url(#blot)">
<g filter="url(#b3)" opacity="0.4">
<rect x="1165" y="630" width="20" height="45" fill="#e9e9e9"/>
<rect x="1190" y="632" width="45" height="50" fill="#ececec"/>
<rect x="1240" y="630" width="45" height="52" fill="#e4e4e4"/>
<rect x="1300" y="640" width="40" height="40" fill="#eeeeee"/>
<rect x="1345" y="632" width="45" height="50" fill="#e6e6e6"/>
<rect x="1400" y="634" width="45" height="40" fill="#efefef"/>
</g>
<g filter="url(#b2)" fill="none" stroke-linecap="round">
<path d="M1151.5 662.8 L1176.5 662.4" stroke="#a2a2a2" stroke-width="5"/>
<path d="M1166 662.6 L1176.5 662.4" stroke="#7a7a7a" stroke-width="4" opacity="0.5"/>
<path d="M1136 662.6 L1139 662.7" stroke="#b0b0b0" stroke-width="5"/>
<path d="M1189.5 660.9 Q1210 659.6 1228.5 659.2" stroke="#7c7c7c" stroke-width="5.2"/>
<path d="M1242 656.4 Q1262 654.6 1279.5 651.6" stroke="#8c8c8c" stroke-width="4.8"/>
<path d="M1297 649.4 Q1318 648.6 1332 646.4" stroke="#dedede" stroke-width="3.8"/>
<path d="M1322 647.6 L1332 646.4" stroke="#c4c4c4" stroke-width="3.6"/>
<path d="M1346.5 646.4 Q1368 645.8 1387.5 646" stroke="#c0c0c0" stroke-width="4.8"/>
<path d="M1370 646 L1387.5 646" stroke="#a4a4a4" stroke-width="4.2" opacity="0.7"/>
<path d="M1347 663.6 L1388 663" stroke="#f0f0f0" stroke-width="4.5"/>
<path d="M1401 642.6 L1442 641.8" stroke="#dcdcdc" stroke-width="3.6"/>
<path d="M1435 642 L1441.5 641.8" stroke="#a8a8a8" stroke-width="4.6"/>
<path d="M1190 679 L1230 678" stroke="#ececec" stroke-width="4"/>
<path d="M1243 678 L1283 676" stroke="#e8e8e8" stroke-width="4"/>
</g>
<g filter="url(#b1)" fill="none" stroke-linecap="round" stroke-linejoin="round">
<path d="M1140.9 717.8 Q1162.55 720.6 1182.6 718.4" stroke="#ababab" stroke-width="4.2"/>
<path d="M1137.5 708.4 L1140.9 717.8" stroke="#c4c4c4" stroke-width="3"/>
<path d="M1182.6 718.4 L1187.0 707.6" stroke="#c4c4c4" stroke-width="3"/>
<path d="M1197.0 719.1999999999999 Q1216.3 722.0 1234.0 719.8" stroke="#ababab" stroke-width="4.2"/>
<path d="M1193.6 709.8 L1197.0 719.1999999999999" stroke="#c4c4c4" stroke-width="3"/>
<path d="M1234.0 719.8 L1238.4 709.0" stroke="#c4c4c4" stroke-width="3"/>
<path d="M1248.6000000000001 719.1999999999999 Q1269.35 722.0 1288.5 719.8" stroke="#ababab" stroke-width="4.2"/>
<path d="M1245.2 709.8 L1248.6000000000001 719.1999999999999" stroke="#c4c4c4" stroke-width="3"/>
<path d="M1288.5 719.8 L1292.9 709.0" stroke="#c4c4c4" stroke-width="3"/>
<path d="M1301 718.8 Q1319.0 721.2 1337 719.6" stroke="#cdcdcd" stroke-width="4.4"/>
<path d="M1348.5 718.8 Q1367.5 721.2 1386.5 719.6" stroke="#cdcdcd" stroke-width="4.4"/>
<path d="M1397.5 718.8 Q1417.0 721.2 1436.5 719.6" stroke="#cdcdcd" stroke-width="4.4"/>
</g>
<g filter="url(#b0)">
<path d="M1122.1 773.2 C1122.8 773.1 1122.1 773.0 1126.2 772.8 C1130.4 772.6 1138.3 772.4 1147.0 772.2 C1155.6 771.9 1171.5 771.2 1178.1 771.1 C1184.7 771.1 1184.9 771.4 1186.8 771.7 C1188.7 772.1 1188.5 773.2 1189.5 773.2 C1190.5 773.2 1189.7 772.0 1192.6 771.5 C1195.6 771.1 1201.3 770.6 1207.1 770.5 C1213.0 770.4 1221.7 770.8 1227.9 771.1 C1234.1 771.5 1238.3 772.6 1244.5 772.6 C1250.7 772.6 1257.6 771.5 1265.2 771.1 C1272.8 770.8 1281.5 770.8 1290.1 770.5 C1298.8 770.2 1308.1 769.3 1317.1 769.0 C1326.1 768.8 1337.8 769.3 1344.1 769.0 C1350.3 768.8 1351.0 767.6 1354.4 767.4 C1357.9 767.2 1360.7 768.3 1364.8 768.0 C1369.0 767.8 1374.1 766.4 1379.3 765.9 C1384.5 765.5 1389.0 765.8 1395.9 765.3 C1402.8 764.9 1413.2 763.9 1420.8 763.2 C1428.4 762.6 1434.8 762.0 1441.6 761.4 C1448.3 760.7 1458.0 759.8 1461.3 759.5 L1461.3 765.1 C1458.0 765.6 1448.3 767.2 1441.6 768.0 C1434.8 768.8 1428.4 769.7 1420.8 770.1 C1413.2 770.5 1402.8 769.7 1395.9 770.3 C1389.0 770.9 1384.5 773.4 1379.3 773.8 C1374.1 774.3 1369.0 772.9 1364.8 773.0 C1360.7 773.1 1357.9 774.2 1354.4 774.2 C1351.0 774.3 1350.3 773.0 1344.1 773.4 C1337.8 773.9 1326.1 776.5 1317.1 776.9 C1308.1 777.3 1298.8 775.5 1290.1 775.9 C1281.5 776.2 1272.8 778.8 1265.2 779.0 C1257.6 779.2 1250.7 777.2 1244.5 777.1 C1238.3 777.1 1234.1 778.6 1227.9 778.8 C1221.7 779.0 1213.0 778.6 1207.1 778.4 C1201.3 778.1 1195.6 777.8 1192.6 777.3 C1189.7 776.9 1190.5 775.4 1189.5 775.5 C1188.5 775.5 1188.3 777.2 1186.4 777.8 C1184.5 778.3 1184.7 778.6 1178.1 779.0 C1171.5 779.5 1155.6 780.5 1147.0 780.5 C1138.3 780.5 1130.4 779.3 1126.2 779.0 C1122.1 778.7 1122.8 778.7 1122.1 778.6 Z" fill="#030303"/>
</g>
</g>
<rect x="1123.8" y="627.9" width="336.2" height="170.4" fill="none" stroke="#000" stroke-width="2"/>
<rect x="1123" y="683.75" width="338" height="3.5" fill="#000"/>
<rect x="1123" y="740.0" width="338" height="3.4" fill="#000"/>
<text x="1472.91" y="665.70" font-size="29.82" letter-spacing="2.77">CYP1A1</text>
<text x="1471.93" y="720.50" font-size="29.24" textLength="61.22" lengthAdjust="spacingAndGlyphs">AHR</text>
<text x="1473.63" y="776.71" font-size="29.40" textLength="87.07" lengthAdjust="spacingAndGlyphs">ACTIN</text>
<text transform="translate(1163.70,885.86) rotate(-90)" font-size="29.10" textLength="68.44" lengthAdjust="spacingAndGlyphs">Mock</text>
<text transform="translate(1217.90,896.45) rotate(-90)" font-size="29.82" textLength="79.81" lengthAdjust="spacingAndGlyphs">TCDD</text>
<text transform="translate(1272.90,877.79) rotate(-90)" font-size="29.82" textLength="61.05" lengthAdjust="spacingAndGlyphs">MC3</text>
<text transform="translate(1336.10,885.86) rotate(-90)" font-size="29.10" textLength="68.44" lengthAdjust="spacingAndGlyphs">Mock</text>
<text transform="translate(1390.60,896.45) rotate(-90)" font-size="30.11" textLength="79.81" lengthAdjust="spacingAndGlyphs">TCDD</text>
<text transform="translate(1442.40,877.79) rotate(-90)" font-size="30.25" textLength="61.05" lengthAdjust="spacingAndGlyphs">MC3</text>
<rect x="1143.2" y="917.6" width="129.89999999999986" height="6.2" fill="#000"/>
<rect x="1324.7" y="917.6" width="129.5" height="6.2" fill="#000"/>
<text x="1184.74" y="972.91" font-size="29.12" textLength="45.55" lengthAdjust="spacingAndGlyphs">Ctrl</text>
<text x="1336.33" y="972.70" font-size="30.11" textLength="108.46" lengthAdjust="spacingAndGlyphs">AHR KD</text>
</g>
</svg></body></html>
